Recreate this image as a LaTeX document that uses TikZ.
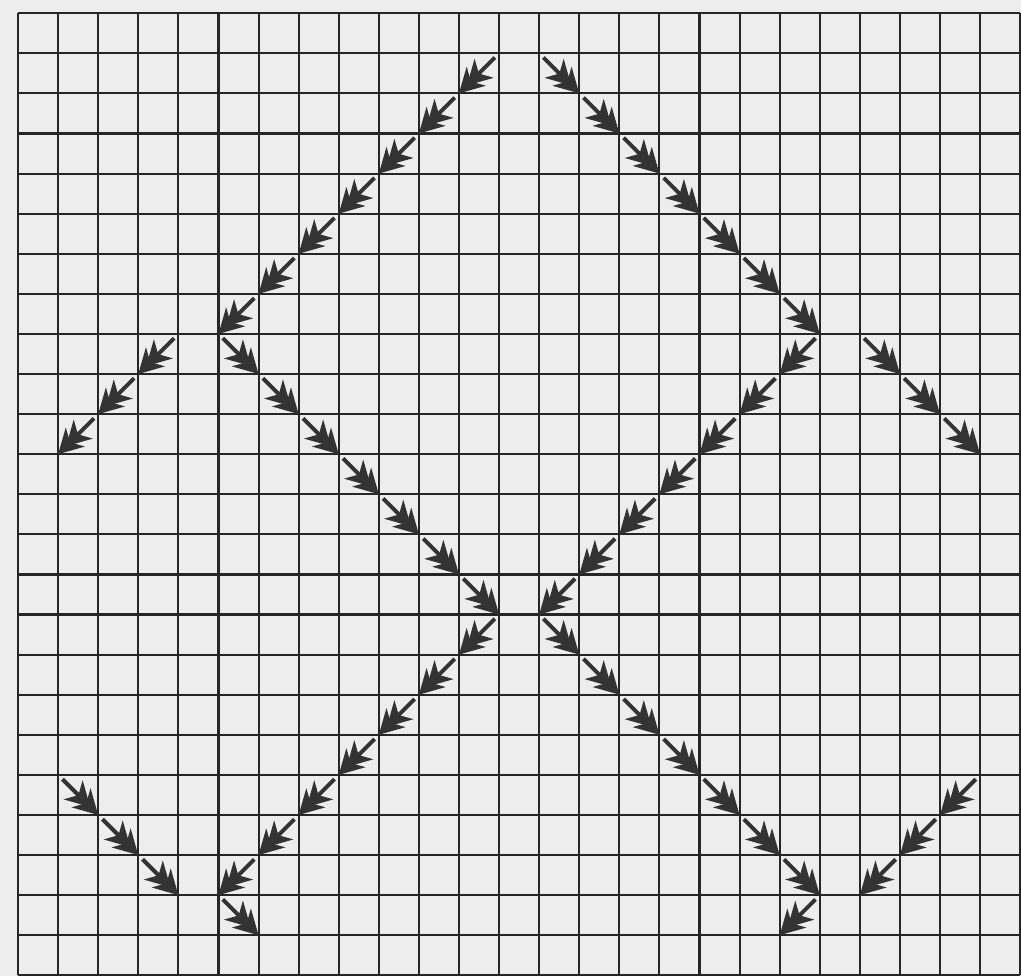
\documentclass[tikz,border=0pt]{standalone}
\usepackage{tikz}
\usetikzlibrary{arrows.meta}

\begin{document}
\begin{tikzpicture}[
  paper/.style    = {fill=black!7},
  gridline/.style = {line width=1.5pt, black!85},
  stepline/.style = {line width=2.8pt, black!80, shorten <=1.5mm,
                     -{Stealth[length=6mm,width=6.6mm,inset=1.8mm,sep=-3.2mm]Stealth[length=6mm,width=6.6mm,inset=1.8mm]}}
]
  \useasboundingbox[paper] (-0.45,0.33) rectangle (25.02,-24.02);
  \draw[gridline] (0,0) grid (25,-24);

  \foreach \c in {0,...,25}
    \foreach \r in {0,...,24}
      \coordinate (p\c-\r) at (\c,-\r);

  % start column / start row / step / count
  \foreach \sc/\sr/\dx/\n in {12/1/-1/7, 13/1/1/7, 4/8/-1/3, 21/8/1/3,
                              5/8/1/7, 20/8/-1/7, 12/15/-1/7, 13/15/1/7,
                              1/19/1/3, 24/19/-1/3, 5/22/1/1, 20/22/-1/1}
    \foreach \k in {1,...,\n} {
      \pgfmathtruncatemacro\ca{\sc+(\k-1)*\dx}
      \pgfmathtruncatemacro\ra{\sr+\k-1}
      \pgfmathtruncatemacro\cb{\sc+\k*\dx}
      \pgfmathtruncatemacro\rb{\sr+\k}
      \draw[stepline] (p\ca-\ra) -- (p\cb-\rb);
    }
\end{tikzpicture}
\end{document}
